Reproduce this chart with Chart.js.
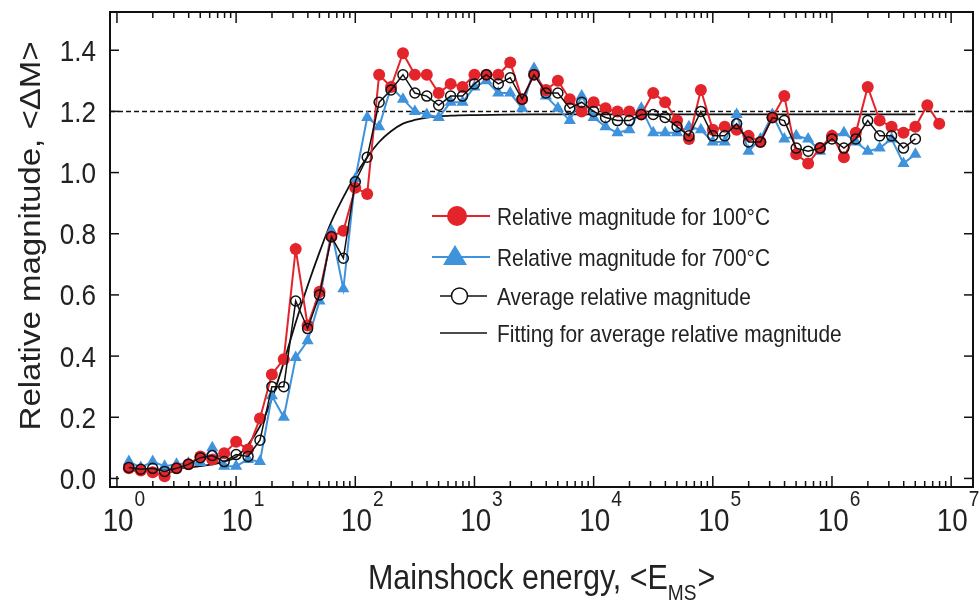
<!DOCTYPE html>
<html>
<head>
<meta charset="utf-8">
<script src="https://cdn.jsdelivr.net/npm/chart.js@4.4.1/dist/chart.umd.min.js"></script>
<style>
  html, body { margin: 0; padding: 0; background: #fff; }
  #wrap { width: 980px; height: 604px; }
</style>
</head>
<body>
<div id="wrap"><canvas id="myChart" width="980" height="604"></canvas></div>
<script>
// log10 of mainshock energy for each sample
const energyExponent = [
  0.1, 0.2, 0.3, 0.4, 0.5, 0.6, 0.7, 0.8, 0.9, 1.0,
  1.1, 1.2, 1.3, 1.4, 1.5, 1.6, 1.7, 1.8, 1.9, 2.0,
  2.1, 2.2, 2.3, 2.4, 2.5, 2.6, 2.7, 2.8, 2.9, 3.0,
  3.1, 3.2, 3.3, 3.4, 3.5, 3.6, 3.7, 3.8, 3.9, 4.0,
  4.1, 4.2, 4.3, 4.4, 4.5, 4.6, 4.7, 4.8, 4.9, 5.0,
  5.1, 5.2, 5.3, 5.4, 5.5, 5.6, 5.7, 5.8, 5.9, 6.0,
  6.1, 6.2, 6.3, 6.4, 6.5, 6.6, 6.7, 6.8, 6.9
];

const mag100 = [
  0.033, 0.026, 0.020, 0.007, 0.033, 0.046, 0.072, 0.062, 0.082, 0.120,
  0.095, 0.196, 0.340, 0.390, 0.750, 0.500, 0.610, 0.790, 0.810, 0.950,
  0.930, 1.320, 1.280, 1.390, 1.320, 1.320, 1.260, 1.290, 1.280, 1.320,
  1.320, 1.320, 1.360, 1.240, 1.320, 1.270, 1.300, 1.240, 1.200, 1.230,
  1.210, 1.200, 1.200, 1.190, 1.260, 1.230, 1.170, 1.110, 1.270, 1.140,
  1.150, 1.140, 1.120, 1.100, 1.180, 1.250, 1.060, 1.030, 1.080, 1.120,
  1.050, 1.130, 1.280, 1.170, 1.150, 1.130, 1.150, 1.220, 1.160
];

const mag700 = [
  0.055, 0.036, 0.055, 0.040, 0.046, 0.050, 0.052, 0.100, 0.040, 0.040,
  0.062, 0.055, 0.270, 0.200, 0.395, 0.450, 0.580, 0.810, 0.620, 0.980,
  1.180, 1.150, 1.280, 1.240, 1.200, 1.190, 1.180, 1.230, 1.230, 1.280,
  1.300, 1.260, 1.260, 1.210, 1.340, 1.250, 1.210, 1.170, 1.250, 1.180,
  1.150, 1.130, 1.140, 1.210, 1.130, 1.130, 1.130, 1.150, 1.140, 1.100,
  1.100, 1.190, 1.070, 1.110, 1.190, 1.110, 1.120, 1.110, 1.070, 1.120,
  1.130, 1.100, 1.070, 1.080, 1.110, 1.030, 1.060
];

const magAverage = [
  0.036, 0.030, 0.033, 0.023, 0.033, 0.046, 0.068, 0.075, 0.055, 0.078,
  0.072, 0.125, 0.300, 0.300, 0.580, 0.490, 0.600, 0.790, 0.720, 0.970,
  1.050, 1.230, 1.270, 1.320, 1.260, 1.250, 1.220, 1.250, 1.250, 1.290,
  1.320, 1.290, 1.310, 1.240, 1.320, 1.260, 1.260, 1.210, 1.230, 1.200,
  1.180, 1.170, 1.170, 1.190, 1.190, 1.180, 1.150, 1.120, 1.200, 1.120,
  1.120, 1.160, 1.100, 1.100, 1.180, 1.170, 1.080, 1.070, 1.080, 1.110,
  1.080, 1.110, 1.170, 1.120, 1.120, 1.080, 1.110
];

// fitted curve
const fitExponent = [0.1, 0.4, 0.7, 0.9, 1.0, 1.1, 1.2, 1.3, 1.4, 1.5, 1.6, 1.7, 1.8, 1.9, 2.0,
  2.1, 2.2, 2.3, 2.4, 2.5, 2.6, 2.8, 3.0, 3.5, 4.5, 6.7];
const fitValue = [0.025, 0.030, 0.040, 0.055, 0.070, 0.110, 0.170, 0.260, 0.380, 0.510, 0.630, 0.740, 0.840, 0.920, 0.990,
  1.050, 1.100, 1.135, 1.160, 1.172, 1.180, 1.186, 1.188, 1.190, 1.190, 1.190];

const refLevel = 1.2;
const yTicks = [0.0, 0.2, 0.4, 0.6, 0.8, 1.0, 1.2, 1.4];
const xDecades = [0, 1, 2, 3, 4, 5, 6, 7];

const legendLabels = [
  'Relative magnitude for 100°C',
  'Relative magnitude for 700°C',
  'Average relative magnitude',
  'Fitting for average relative magnitude'
];
const yTitle = 'Relative magnitude, <ΔM>';
const xTitle = ['Mainshock energy, <E', 'MS', '>'];

const RED = '#e3242b';
const BLUE = '#3f93dc';
const BLACK = '#111';
const SQ = 0.87;
const FONT = '"Liberation Sans", Arial, sans-serif';

const toPoints = (exps, vals) => vals.map((v, i) => ({ x: Math.pow(10, exps[i]), y: v }));

function sText(ctx, str, x, y, size, align) {
  ctx.save();
  ctx.translate(x, y);
  ctx.scale(SQ, 1);
  ctx.font = size + 'px ' + FONT;
  ctx.textAlign = align || 'left';
  ctx.textBaseline = 'alphabetic';
  ctx.fillText(str, 0, 0);
  ctx.restore();
}
function sWidth(ctx, str, size) {
  ctx.font = size + 'px ' + FONT;
  return ctx.measureText(str).width * SQ;
}
function seg(ctx, x1, y1, x2, y2) {
  ctx.beginPath(); ctx.moveTo(x1, y1); ctx.lineTo(x2, y2); ctx.stroke();
}

const decor = {
  id: 'decor',
  beforeDatasetsDraw(chart) {
    const { ctx, chartArea: a, scales: { y } } = chart;
    const py = y.getPixelForValue(refLevel);
    ctx.save();
    ctx.strokeStyle = BLACK;
    ctx.lineWidth = 1.5;
    ctx.setLineDash([5, 3]);
    seg(ctx, a.left, py, a.right, py);
    ctx.restore();
  },
  afterDraw(chart) {
    const { ctx, chartArea: a, scales: { x, y } } = chart;
    ctx.save();
    ctx.fillStyle = '#222';
    ctx.strokeStyle = BLACK;

    // frame
    ctx.lineWidth = 2;
    ctx.strokeRect(a.left, a.top, a.right - a.left, a.bottom - a.top);

    // y ticks + labels
    ctx.lineWidth = 1.5;
    yTicks.forEach(v => {
      const py = y.getPixelForValue(v);
      seg(ctx, a.left, py, a.left + 9, py);
      seg(ctx, a.right, py, a.right - 9, py);
      sText(ctx, v.toFixed(1), 96, py + 10.5, 30, 'right');
    });

    // x ticks (log, with minors) + labels
    xDecades.forEach(n => {
      const px = x.getPixelForValue(Math.pow(10, n));
      seg(ctx, px, a.bottom, px, a.bottom - 11);
      seg(ctx, px, a.top, px, a.top + 11);
      if (n < 7) {
        for (let m = 2; m <= 9; m++) {
          const pm = x.getPixelForValue(m * Math.pow(10, n));
          seg(ctx, pm, a.bottom, pm, a.bottom - 6);
          seg(ctx, pm, a.top, pm, a.top + 6);
        }
      }
      const w10 = sWidth(ctx, '10', 32);
      const wExp = sWidth(ctx, String(n), 22);
      const left = px + 7 - (w10 + 1 + wExp) / 2;
      sText(ctx, '10', left, 531, 32);
      sText(ctx, String(n), left + w10 + 1, 506, 22);
    });

    // axis titles
    ctx.save();
    ctx.translate(40, 236);
    ctx.scale(SQ, 1);
    ctx.rotate(-Math.PI / 2);
    ctx.font = '33px ' + FONT;
    ctx.textAlign = 'center';
    ctx.fillText(yTitle, 0, 0);
    ctx.restore();

    let tx = 368;
    sText(ctx, xTitle[0], tx, 589, 35);
    tx += sWidth(ctx, xTitle[0], 35);
    sText(ctx, xTitle[1], tx, 600, 22);
    tx += sWidth(ctx, xTitle[1], 22) + 1;
    sText(ctx, xTitle[2], tx, 589, 35);

    // legend
    const rows = [216, 257, 296, 333];
    ctx.lineWidth = 2;
    ctx.strokeStyle = RED; ctx.fillStyle = RED;
    seg(ctx, 432, rows[0], 490, rows[0]);
    ctx.beginPath(); ctx.arc(457, rows[0], 10, 0, Math.PI * 2); ctx.fill();
    ctx.strokeStyle = BLUE; ctx.fillStyle = BLUE;
    seg(ctx, 432, rows[1], 490, rows[1]);
    ctx.beginPath();
    ctx.moveTo(455, rows[1] - 12); ctx.lineTo(467, rows[1] + 8); ctx.lineTo(443, rows[1] + 8);
    ctx.closePath(); ctx.fill();
    ctx.strokeStyle = BLACK; ctx.lineWidth = 1.5;
    seg(ctx, 440, rows[2], 451, rows[2]);
    seg(ctx, 468, rows[2], 487, rows[2]);
    ctx.beginPath(); ctx.arc(459.5, rows[2], 8, 0, Math.PI * 2); ctx.stroke();
    seg(ctx, 440, rows[3], 487, rows[3]);

    ctx.fillStyle = '#222';
    legendLabels.forEach((t, i) => sText(ctx, t, 497, rows[i] + 8.5, 24));
    ctx.restore();
  }
};

const ctx = document.getElementById('myChart');

new Chart(ctx, {
  type: 'line',
  data: {
    datasets: [
      {
        label: legendLabels[2],
        data: toPoints(energyExponent, magAverage),
        borderColor: BLACK,
        borderWidth: 1.5,
        pointStyle: 'circle',
        pointRadius: 5,
        pointBorderWidth: 1.5,
        pointBorderColor: BLACK,
        pointBackgroundColor: 'rgba(0,0,0,0)'
      },
      {
        label: legendLabels[0],
        data: toPoints(energyExponent, mag100),
        borderColor: RED,
        borderWidth: 2,
        pointStyle: 'circle',
        pointRadius: 6,
        pointBorderWidth: 0,
        pointBackgroundColor: RED
      },
      {
        label: legendLabels[1],
        data: toPoints(energyExponent, mag700),
        borderColor: BLUE,
        borderWidth: 2,
        pointStyle: 'triangle',
        pointRadius: 7,
        pointBorderWidth: 0,
        pointBackgroundColor: BLUE
      },
      {
        label: legendLabels[3],
        data: toPoints(fitExponent, fitValue),
        borderColor: BLACK,
        borderWidth: 1.8,
        pointRadius: 0,
        cubicInterpolationMode: 'monotone'
      }
    ]
  },
  options: {
    responsive: false,
    animation: false,
    layout: { padding: { left: 110, right: 1, top: 12, bottom: 117 } },
    plugins: { legend: { display: false }, tooltip: { enabled: false } },
    scales: {
      x: { type: 'logarithmic', min: 0.8744, max: 1.5254e7, display: false },
      y: { type: 'linear', min: -0.028, max: 1.525, display: false }
    }
  },
  plugins: [decor]
});
</script>
</body>
</html>
